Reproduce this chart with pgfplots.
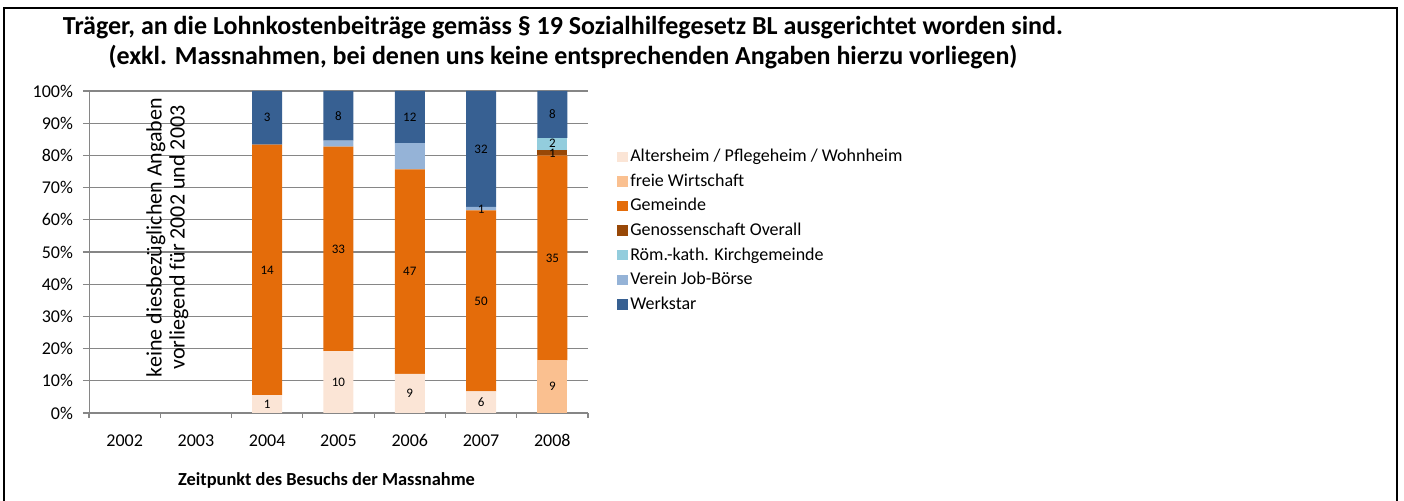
\documentclass[border=0pt]{standalone}
\usepackage{pgfplots}
\pgfplotsset{compat=1.18}
\usepackage{pgfplotstable}
\usepackage{fontspec}
\setmainfont{Carlito}

\definecolor{alt}{HTML}{FBE5D6}
\definecolor{frei}{HTML}{FAC090}
\definecolor{gem}{HTML}{E46C0A}
\definecolor{gen}{HTML}{984807}
\definecolor{rom}{HTML}{93CDDD}
\definecolor{ver}{HTML}{95B3D7}
\definecolor{werk}{HTML}{376092}
\definecolor{gridgray}{HTML}{868686}

% shares in percent of all cases per year (counts: see labels)
\pgfplotstableread{
x  alt    frei   gem    gen   rom   ver   werk
2  5.556  0      77.778 0     0     0     16.667
3  19.231 0      63.462 0     0     1.923 15.385
4  12.162 0      63.514 0     0     8.108 16.216
5  6.742  0      56.180 0     0     1.124 35.955
6  0      16.364 63.636 1.818 3.636 0     14.545
}\shares

% counts, placed in the middle of their segment
\pgfplotstableread{
x  y      lab
2  2.78   1
2  44.44  14
2  91.67  3
3  9.62   10
3  50.96  33
3  92.31  8
4  6.08   9
4  43.92  47
4  91.89  12
5  3.37   6
5  34.83  50
5  63.30  1
5  82.02  32
6  8.18   9
6  48.18  35
6  80.70  1
6  83.80  2
6  92.73  8
}\counts

\pgfplotsset{
  base/.style={scale only axis, width=249.5pt, height=161pt,
    at={(44.5pt,44pt)}, anchor=south west,
    xmin=-0.5, xmax=6.5, ymin=0, ymax=100},
  sq/.style={fill=#1, draw=none,
    legend image code/.code={\fill[##1] (0pt,-2.6pt) rectangle (5.2pt,2.6pt);}},
}

\begin{document}
\begin{tikzpicture}
\useasboundingbox (0,0) rectangle (702pt,250.5pt);
\draw[line width=1pt] (2pt,0pt) -- (2pt,246.5pt) -- (698.5pt,246.5pt) -- (698.5pt,0pt);

\node[align=center, font=\bfseries\fontsize{13}{15}\selectfont] at (281.5pt,229pt)
  {Träger, an die Lohnkostenbeiträge gemäss § 19 Sozialhilfegesetz BL ausgerichtet worden sind.\\
   (exkl. Massnahmen, bei denen uns keine entsprechenden Angaben hierzu vorliegen)};

\begin{axis}[base, ybar stacked, bar width=15pt,
  axis lines=left, axis line style={gridgray, -},
  ymajorgrids, grid style={gridgray, line width=0.6pt},
  ytick={0,10,...,100}, yticklabel={\pgfmathprintnumber{\tick}\%},
  xtick={0,...,6}, xticklabels={2002,2003,2004,2005,2006,2007,2008},
  major x tick style={draw=none},
  minor xtick={-0.5,0.5,...,6.5},
  tick align=outside, tick style={gridgray, line width=0.6pt},
  major tick length=3pt, minor tick length=2.5pt,
  /pgf/number format/assume math mode=true,
  ticklabel style={font=\fontsize{9}{10}\selectfont},
  xticklabel style={text height=6.3pt, text depth=0pt},
  xticklabel shift=4pt, yticklabel shift=1.5pt,
  xlabel={\textbf{Zeitpunkt des Besuchs der Massnahme}},
  xlabel style={at={(axis description cs:0.476,-0.211)}, anchor=center,
    font=\fontsize{9.2}{10}\selectfont},
  legend cell align=left,
  legend style={draw=none, fill=none, at={(axis description cs:1.058,0.822)},
    anchor=north west, font=\fontsize{9}{10}\selectfont, inner sep=0pt,
    nodes={inner xsep=1.3pt, inner ysep=0pt, text height=6.5pt, text depth=1.5pt},
    row sep=4.3pt},
]
\addplot[sq=alt]  table[x=x, y=alt]  {\shares}; \addlegendentry{Altersheim / Pflegeheim / Wohnheim}
\addplot[sq=frei] table[x=x, y=frei] {\shares}; \addlegendentry{freie Wirtschaft}
\addplot[sq=gem]  table[x=x, y=gem]  {\shares}; \addlegendentry{Gemeinde}
\addplot[sq=gen]  table[x=x, y=gen]  {\shares}; \addlegendentry{Genossenschaft Overall}
\addplot[sq=rom]  table[x=x, y=rom]  {\shares}; \addlegendentry{Röm.-kath.  Kirchgemeinde}
\addplot[sq=ver]  table[x=x, y=ver]  {\shares}; \addlegendentry{Verein Job-Börse}
\addplot[sq=werk] table[x=x, y=werk] {\shares}; \addlegendentry{Werkstar}
\node[rotate=90, align=center, font=\fontsize{11}{11.5}\selectfont]
  at (axis cs:0.6,54.5) {keine diesbezüglichen Angaben\\vorliegend für 2002 und 2003};
\end{axis}

\begin{axis}[base, hide axis]
\addplot[only marks, mark=*, mark size=0pt, mark options={draw=none, fill=none},
  point meta=explicit symbolic, nodes near coords,
  every node near coord/.append style={anchor=center, inner sep=0pt,
    font=\fontsize{6.5}{7}\selectfont}]
  table[x=x, y=y, meta=lab] {\counts};
\end{axis}
\end{tikzpicture}
\end{document}
